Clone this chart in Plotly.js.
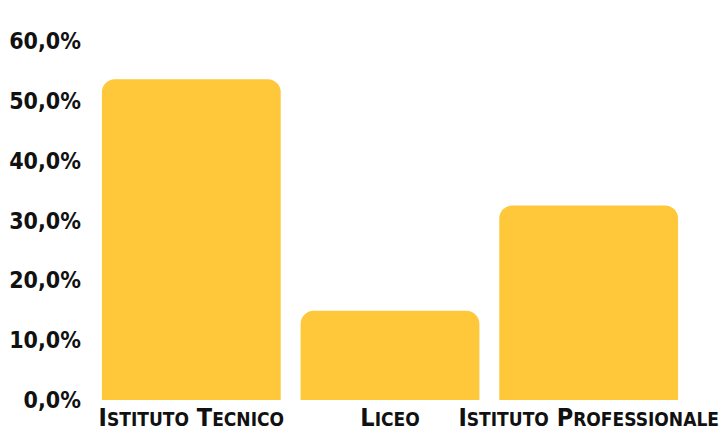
<!DOCTYPE html>
<html><head><meta charset="utf-8">
<script src="https://cdn.plot.ly/plotly-3.0.1.min.js"></script>
<style>html,body{margin:0;padding:0;background:#fff}#c{width:725px;height:436px}</style>
</head><body><div id="c"></div>
<script>
const categories = ["Istituto Tecnico", "Liceo", "Istituto Professionale"];
const tickLabels = [
  "I<span style='font-size:19px'>STITUTO</span> T<span style='font-size:19px'>ECNICO</span>",
  "L<span style='font-size:19px'>ICEO</span>",
  "I<span style='font-size:19px'>STITUTO</span> P<span style='font-size:19px'>ROFESSIONALE</span>"
];
const values = [53.6, 14.9, 32.5];
const yTickVals = [0, 10, 20, 30, 40, 50, 60];
const yTickText = ["0,0%", "10,0%", "20,0%", "30,0%", "40,0%", "50,0%", "60,0%"];

const F = "'DejaVu Sans Condensed', 'DejaVu Sans', sans-serif";
Plotly.newPlot('c', [{
  type: 'bar', x: categories, y: values,
  marker: {color: '#FFC83A', cornerradius: 13},
  hoverinfo: 'none'
}], {
  width: 725, height: 436,
  margin: {l: 92, r: 37, t: 41, b: 35.5},
  paper_bgcolor: '#fff', plot_bgcolor: '#fff',
  bargap: 0.1,
  font: {family: F, color: '#111'},
  xaxis: {tickvals: categories, ticktext: tickLabels, showgrid: false, zeroline: false, showline: false,
          tickfont: {family: F, size: 25, weight: 'bold', color: '#111'}, ticklabelstandoff: 0},
  yaxis: {range: [0, 60], tickvals: yTickVals, ticktext: yTickText, showgrid: false, zeroline: false, showline: false,
          tickfont: {family: F, size: 23, weight: 'bold', color: '#111'}, ticklabelstandoff: 10},
  showlegend: false
}, {staticPlot: true});
</script></body></html>
